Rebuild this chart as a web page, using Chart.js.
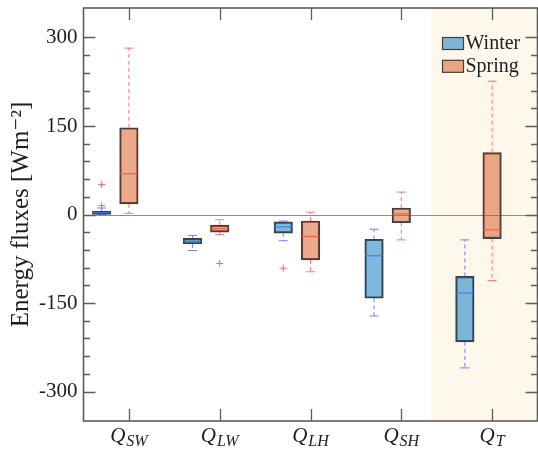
<!DOCTYPE html>
<html>
<head>
<meta charset="utf-8">
<script src="https://cdn.jsdelivr.net/npm/chart.js@4"></script>
<style>
  html, body { margin: 0; padding: 0; background: #ffffff; }
  #wrap { width: 538px; height: 452px; }
</style>
</head>
<body>
<div id="wrap"><canvas id="chart" width="538" height="452"></canvas></div>
<script>
// Flux terms (drawn as Q with a subscript)
const categories = ['Q_SW', 'Q_LW', 'Q_LH', 'Q_SH', 'Q_T'];
const seriesNames = ['Winter', 'Spring'];
const yTickLabels = [-300, -150, 0, 150, 300];

// Winter box statistics, W m^-2
const winterLow      = [0, -61, -44.5, -172, -260];
const winterQ1       = [0, -50, -31.5, -142, -216];
const winterMedian   = [3, -45.5, -21, -70, -133];
const winterQ3       = [6, -40.5, -12.5, -42, -105];
const winterHigh     = [11, -35.5, -11, -25, -43];
const winterOutliers = [[15, 51], [], [-91], [], []];

// Spring box statistics, W m^-2
const springLow      = [2, -34, -97, -43, -112];
const springQ1       = [18, -30, -77, -14, -41];
const springMedian   = [69, -24, -37, 1, -26];
const springQ3       = [147, -18, -11, 11, 105];
const springHigh     = [282, -9, 4, 38, 226];
const springOutliers = [[], [-83], [], [], []];

// The net term is highlighted from this x position to the right edge
const highlightFrom = 4.33;

// Layout helpers
const WINTER_SHIFT = -0.3, SPRING_SHIFT = 0;
const CAP_HALF = 0.05, MEDIAN_HALF = 0.1;

const pos = (i, shift) => i + 1 + shift;

function boxData(q1, q3, shift) {
  return categories.map((c, i) => ({ x: pos(i, shift), y: [q1[i], q3[i]] }));
}
function whiskerData(low, q1, q3, high, shift) {
  return categories.flatMap((c, i) => {
    const x = pos(i, shift);
    return [{ x, y: q3[i] }, { x, y: high[i] }, { x, y: null },
            { x, y: q1[i] }, { x, y: low[i] }, { x, y: null }];
  });
}
function capData(low, high, shift) {
  return categories.flatMap((c, i) => {
    const x = pos(i, shift);
    return [{ x: x - CAP_HALF, y: high[i] }, { x: x + CAP_HALF, y: high[i] }, { x, y: null },
            { x: x - CAP_HALF, y: low[i] }, { x: x + CAP_HALF, y: low[i] }, { x, y: null }];
  });
}
function medianData(med, shift) {
  return categories.flatMap((c, i) => {
    const x = pos(i, shift);
    return [{ x: x - MEDIAN_HALF, y: med[i] }, { x: x + MEDIAN_HALF, y: med[i] }, { x, y: null }];
  });
}
function outlierData(out, shift) {
  return categories.flatMap((c, i) => out[i].map(v => ({ x: pos(i, shift), y: v })));
}

const winterFill = 'rgba(0,114,189,0.5)';
const springFill = 'rgba(217,83,25,0.5)';
const boxEdge = '#3f3f3f';
const winterWhisker = 'rgba(70,70,255,0.7)';
const springWhisker = 'rgba(255,60,60,0.7)';
const winterMedianColor = '#3b7be0';
const springMedianColor = '#f4553a';
const outlierColor = 'rgba(255,70,70,0.85)';
const frameColor = '#5c5c5c';
const serif = "'Liberation Serif', 'DejaVu Serif', serif";

function lineSet(label, data, color, dash, order) {
  return {
    type: 'line', label, data, borderColor: color, borderWidth: 1,
    borderDash: dash, pointRadius: 0, spanGaps: false, tension: 0,
    fill: false, order
  };
}

const datasets = [
  { type: 'bar', label: seriesNames[0], data: boxData(winterQ1, winterQ3, WINTER_SHIFT),
    backgroundColor: winterFill, borderColor: boxEdge, borderWidth: 1.5,
    borderSkipped: false, grouped: false, barThickness: 18.5, order: 3 },
  { type: 'bar', label: seriesNames[1], data: boxData(springQ1, springQ3, SPRING_SHIFT),
    backgroundColor: springFill, borderColor: boxEdge, borderWidth: 1.5,
    borderSkipped: false, grouped: false, barThickness: 18.5, order: 3 },
  lineSet('winter whiskers', whiskerData(winterLow, winterQ1, winterQ3, winterHigh, WINTER_SHIFT), winterWhisker, [4, 3], 2),
  lineSet('spring whiskers', whiskerData(springLow, springQ1, springQ3, springHigh, SPRING_SHIFT), springWhisker, [4, 3], 2),
  lineSet('winter caps', capData(winterLow, winterHigh, WINTER_SHIFT), winterWhisker, [], 2),
  lineSet('spring caps', capData(springLow, springHigh, SPRING_SHIFT), springWhisker, [], 2),
  lineSet('winter medians', medianData(winterMedian, WINTER_SHIFT), winterMedianColor, [], 0),
  lineSet('spring medians', medianData(springMedian, SPRING_SHIFT), springMedianColor, [], 0),
  { type: 'scatter', label: 'winter outliers', data: outlierData(winterOutliers, WINTER_SHIFT),
    pointStyle: 'cross', pointRadius: 3.5, borderColor: outlierColor, borderWidth: 1,
    showLine: false, order: 1 },
  { type: 'scatter', label: 'spring outliers', data: outlierData(springOutliers, SPRING_SHIFT),
    pointStyle: 'cross', pointRadius: 3.5, borderColor: outlierColor, borderWidth: 1,
    showLine: false, order: 1 }
];

// Shaded column behind the net term and the zero reference line
const backdrop = {
  id: 'backdrop',
  beforeDatasetsDraw(chart) {
    const { ctx, chartArea: a, scales: { x, y } } = chart;
    ctx.save();
    ctx.fillStyle = '#fdf7ec';
    const xs = x.getPixelForValue(highlightFrom);
    ctx.fillRect(xs, a.top, a.right - xs, a.bottom - a.top);
    const y0 = Math.round(y.getPixelForValue(0)) + 0.5;
    ctx.strokeStyle = '#8c8c8c';
    ctx.lineWidth = 1.2;
    ctx.beginPath();
    ctx.moveTo(a.left, y0);
    ctx.lineTo(a.right, y0);
    ctx.stroke();
    ctx.restore();
  }
};

// Box frame with inward-pointing ticks on all four sides
const frame = {
  id: 'frame',
  afterDatasetsDraw(chart) {
    const { ctx, chartArea: a, scales: { x, y } } = chart;
    ctx.save();
    ctx.strokeStyle = frameColor;
    ctx.lineWidth = 1.3;
    ctx.beginPath();
    y.ticks.forEach(t => {
      if (t.value % 30 !== 0) return;
      const py = Math.round(y.getPixelForValue(t.value)) + 0.5;
      const len = t.value % 150 === 0 ? 12 : 6.5;
      ctx.moveTo(a.left, py); ctx.lineTo(a.left + len, py);
      ctx.moveTo(a.right, py); ctx.lineTo(a.right - len, py);
    });
    categories.forEach((c, i) => {
      const px = Math.round(x.getPixelForValue(i + 1)) + 0.5;
      ctx.moveTo(px, a.top); ctx.lineTo(px, a.top + 12);
      ctx.moveTo(px, a.bottom); ctx.lineTo(px, a.bottom - 12);
    });
    ctx.stroke();
    ctx.lineWidth = 1.6;
    ctx.strokeRect(a.left, a.top, a.right - a.left, a.bottom - a.top);
    ctx.restore();
  }
};

// Category labels: italic Q with an italic subscript
const fluxLabels = {
  id: 'fluxLabels',
  afterDraw(chart) {
    const { ctx, chartArea: a, scales: { x } } = chart;
    ctx.save();
    ctx.fillStyle = '#1e1e1e';
    ctx.textBaseline = 'alphabetic';
    ctx.textAlign = 'left';
    const mainFont = 'italic 21px ' + serif;
    const subFont = 'italic 16px ' + serif;
    const base = a.bottom + 20.5;
    categories.forEach((c, i) => {
      const [main, sub] = c.split('_');
      ctx.font = mainFont; const wm = ctx.measureText(main).width;
      ctx.font = subFont; const ws = ctx.measureText(sub).width;
      const start = x.getPixelForValue(i + 1) - (wm + ws + 1) / 2;
      ctx.font = mainFont; ctx.fillText(main, start, base);
      ctx.font = subFont; ctx.fillText(sub, start + wm + 1, base + 4);
    });
    ctx.restore();
  }
};

// Legend in the upper right corner of the plot
const cornerLegend = {
  id: 'cornerLegend',
  afterDraw(chart) {
    const { ctx, chartArea: a } = chart;
    ctx.save();
    ctx.font = '20px ' + serif;
    ctx.textBaseline = 'alphabetic';
    ctx.textAlign = 'left';
    const fills = [winterFill, springFill];
    seriesNames.forEach((name, k) => {
      const px = a.right - 95, py = a.top + 29.5 + k * 22.8;
      ctx.fillStyle = fills[k];
      ctx.fillRect(px, py, 21, 12);
      ctx.strokeStyle = boxEdge;
      ctx.lineWidth = 1.2;
      ctx.strokeRect(px, py, 21, 12);
      ctx.fillStyle = '#1e1e1e';
      ctx.fillText(name, px + 23, py + 11.5);
    });
    ctx.restore();
  }
};

function noEdgePadding(scale) {
  scale.paddingTop = 0; scale.paddingBottom = 0;
  scale.paddingLeft = 0; scale.paddingRight = 0;
}

new Chart(document.getElementById('chart'), {
  type: 'bar',
  data: { datasets },
  plugins: [backdrop, frame, fluxLabels, cornerLegend],
  options: {
    responsive: false,
    animation: false,
    events: [],
    layout: { autoPadding: false, padding: { top: 8, bottom: 31, right: 0.5, left: 0 } },
    plugins: { legend: { display: false }, tooltip: { enabled: false } },
    scales: {
      x: {
        type: 'linear', min: 0.5, max: 5.5, offset: false, display: false,
        ticks: { display: false },
        afterFit(scale) { noEdgePadding(scale); scale.height = 0; }
      },
      y: {
        type: 'linear', min: -350, max: 350,
        grid: { display: false, drawTicks: false },
        border: { display: false },
        ticks: {
          stepSize: 30, autoSkip: false, padding: 6,
          color: '#1e1e1e',
          font: { family: serif, size: 21 },
          callback: v => yTickLabels.includes(v) ? String(v) : ''
        },
        title: {
          display: true, text: 'Energy fluxes [Wm\u207B\u00B2]',
          color: '#1e1e1e', font: { family: serif, size: 25 },
          padding: { top: 6, bottom: 0 }
        },
        afterFit(scale) { noEdgePadding(scale); scale.width = 83.5; }
      }
    }
  }
});
</script>
</body>
</html>
